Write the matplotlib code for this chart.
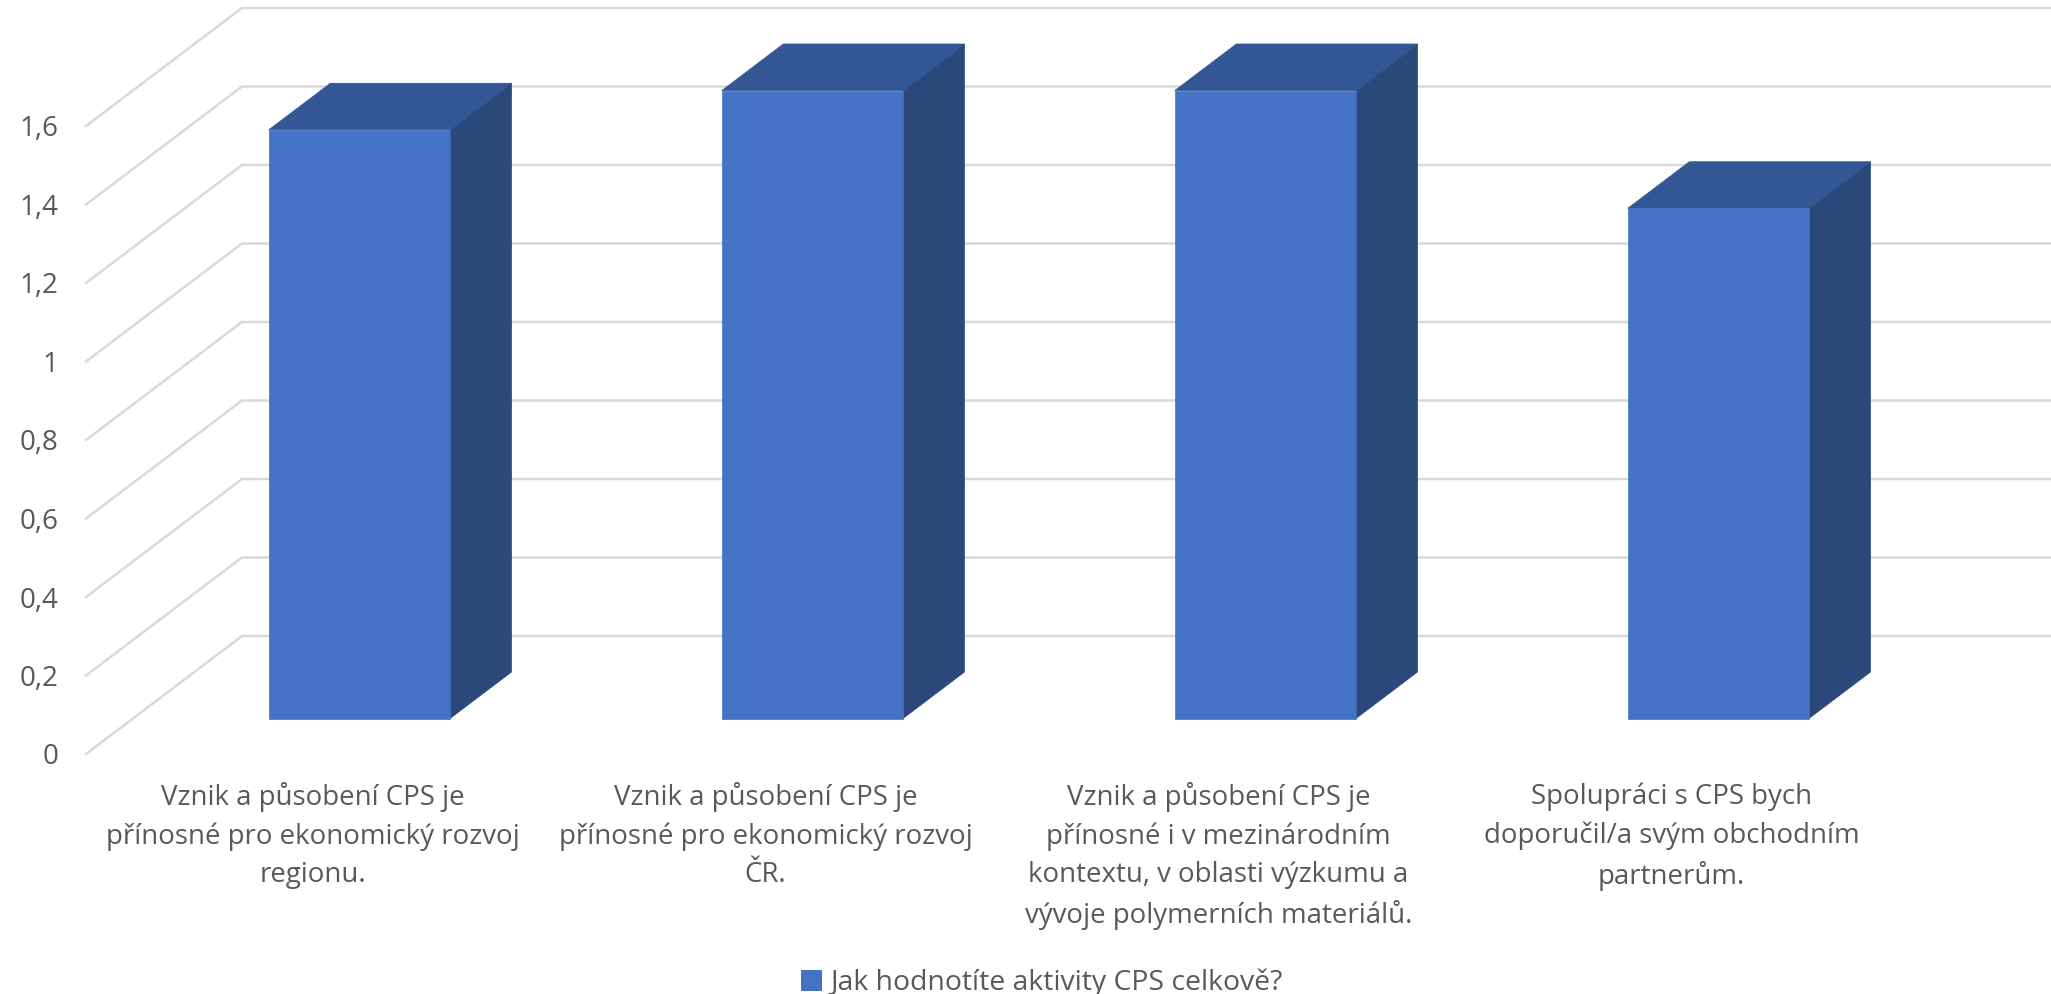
import matplotlib
matplotlib.use('Agg')
import matplotlib.pyplot as plt
from matplotlib.patches import Polygon, Patch

# ── Data ─────────────────────────────────────────────────────────
categories = [
    'Vznik a působení CPS je\npřínosné pro ekonomický rozvoj\nregionu.',
    'Vznik a působení CPS je\npřínosné pro ekonomický rozvoj\nČR.',
    'Vznik a působení CPS je\npřínosné i v mezinárodním\nkontextu, v oblasti výzkumu a\nvývoje polymerních materiálů.',
    'Spolupráci s CPS bych\ndoporučil/a svým obchodním\npartnerům.',
]
values = [1.5, 1.6, 1.6, 1.3]
y_ticks = [0, 0.2, 0.4, 0.6, 0.8, 1.0, 1.2, 1.4, 1.6]
y_labels = ['0', '0,2', '0,4', '0,6', '0,8', '1', '1,2', '1,4', '1,6']
series_name = 'Jak hodnotíte aktivity CPS celkově?'

# ── Design tokens ────────────────────────────────────────────────
FRONT = '#4472C4'
TOP   = '#335794'
SIDE  = '#2A4879'
GRID  = '#D9D9D9'
TEXT  = '#595959'
W, H  = 2051, 994

plt.rcParams['font.family'] = ['Open Sans', 'DejaVu Sans']

fig = plt.figure(figsize=(W / 100, H / 100), dpi=100, facecolor='white')
# front plane of the fake 3D box, pixel positions measured on the reference
ax = fig.add_axes([86 / W, 1 - 754 / H, 1812 / W, 628 / H])
ax.set_xlim(-0.5, 3.5)
ax.set_ylim(0, 1.6)
for sp in ax.spines.values():
    sp.set_visible(False)
ax.patch.set_visible(False)

# oblique depth: full box depth in data units
DX = 156 / 453
DY = 118 / 392.5
BAR_W = 0.4
D0, D1 = 0.3, 0.695   # where the bar sits inside the depth


def project(x, v, d):
    return (x + DX * d, v + DY * d)


# wall gridlines
for v in y_ticks:
    p0 = project(-0.5, v, 0)
    p1 = project(-0.5, v, 1)
    p2 = project(3.5, v, 1)
    ax.plot([p0[0], p1[0], p2[0]], [p0[1], p1[1], p2[1]], color=GRID, lw=1.8,
            clip_on=False, zorder=1, solid_joinstyle='miter')

# bars
for i, v in enumerate(values):
    l, r = i - BAR_W / 2, i + BAR_W / 2
    front = [project(l, 0, D0), project(r, 0, D0), project(r, v, D0), project(l, v, D0)]
    top = [project(l, v, D0), project(r, v, D0), project(r, v, D1), project(l, v, D1)]
    side = [project(r, 0, D0), project(r, 0, D1), project(r, v, D1), project(r, v, D0)]
    ax.add_patch(Polygon(side, fc=SIDE, ec=SIDE, lw=0.5, clip_on=False, zorder=3))
    ax.add_patch(Polygon(top, fc=TOP, ec=TOP, lw=0.5, clip_on=False, zorder=3))
    ax.add_patch(Polygon(front, fc=FRONT, ec=FRONT, lw=0.5, clip_on=False, zorder=4))

ax.set_yticks(y_ticks)
ax.set_yticklabels(y_labels)
ax.set_xticks(range(len(categories)))
ax.set_xticklabels(categories, linespacing=1.48)
ax.tick_params(axis='y', length=0, pad=20, labelsize=20, labelcolor=TEXT)
ax.tick_params(axis='x', length=0, pad=20.5, labelsize=19.9, labelcolor=TEXT)

fig.legend(handles=[Patch(fc=FRONT, ec='none', label=series_name)],
           loc='center', bbox_to_anchor=(1042 / W, 1 - 983 / H), frameon=False,
           fontsize=20.4, labelcolor=TEXT, handlelength=0.75, handleheight=0.75,
           handletextpad=0.3, borderpad=0, borderaxespad=0)

fig.savefig('out.png', dpi=100, facecolor='white')
